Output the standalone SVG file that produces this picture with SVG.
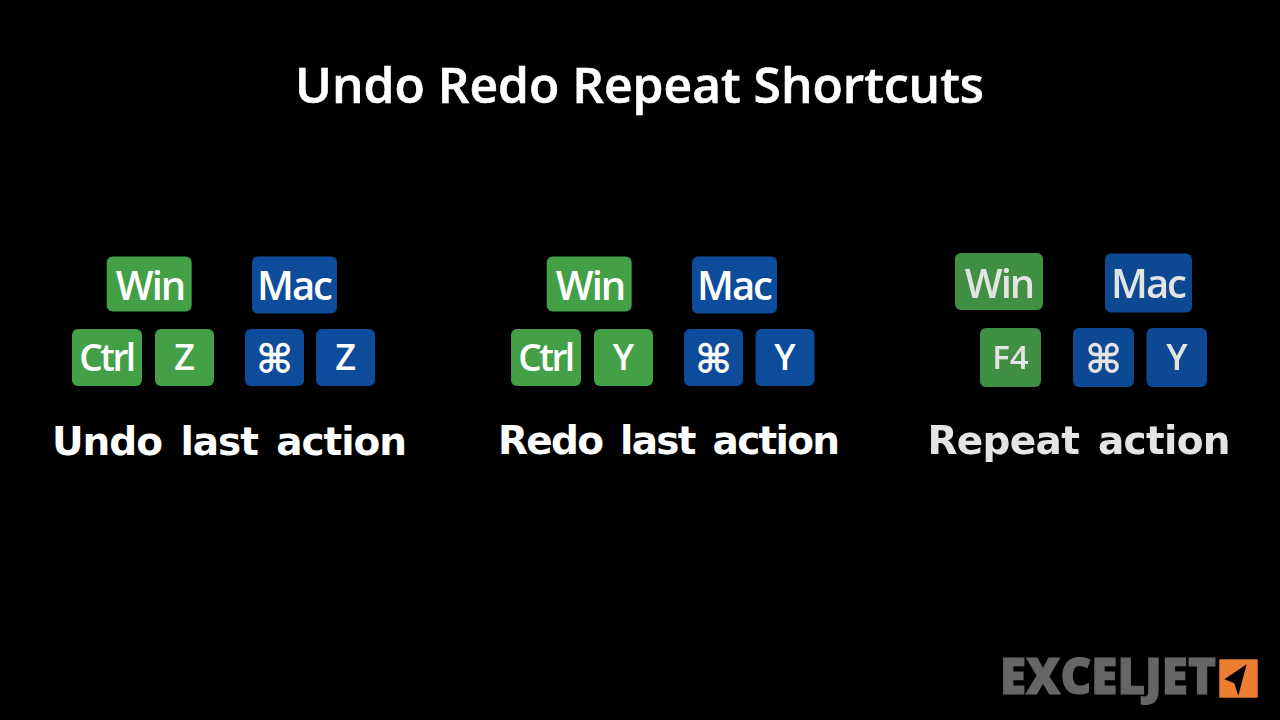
<svg xmlns="http://www.w3.org/2000/svg" width="1280" height="720" viewBox="0 0 1280 720">
<style>
.g{fill:#43a047}.b{fill:#0d4c9b}.g2{fill:#3f8f42}.b2{fill:#0f4a92}
text{font-family:"Open Sans","Noto Sans","DejaVu Sans",sans-serif;fill:#fff;text-anchor:middle}
.k{font-size:40px;font-weight:600;letter-spacing:-2px}
.s{font-size:36px;font-weight:600}
.t{font-size:37px;font-weight:600;letter-spacing:-2.5px}
.c{font-family:"DejaVu Sans",sans-serif;font-size:40px;font-weight:700}
.l{font-family:"DejaVu Sans",sans-serif;font-size:39px;font-weight:700;word-spacing:6px}
.f{fill:#e4e4e4}
</style>
<defs><filter id="soft" x="-5%" y="-5%" width="110%" height="110%"><feGaussianBlur stdDeviation="0.7"/></filter><filter id="soft2" x="-5%" y="-10%" width="110%" height="120%"><feGaussianBlur stdDeviation="0.5"/></filter></defs>
<rect width="1280" height="720" fill="#000"/>
<text id="title" x="639.500" y="102.500" font-size="48" font-weight="600" style="stroke:#fff;stroke-width:0.6" textLength="689" lengthAdjust="spacingAndGlyphs">Undo Redo Repeat Shortcuts</text>
<g id="undo">
<g id="undo-win"><rect class="g" x="106.700" y="256.500" width="85" height="55" rx="6"/><text class="k" x="150" y="300">Win</text></g>
<g id="undo-mac"><rect class="b" x="252" y="256.500" width="85" height="57" rx="6"/><text class="k" x="294" y="300">Mac</text></g>
<g id="undo-ctrl"><rect class="g" x="72" y="329" width="70" height="57" rx="6"/><text class="t" x="106.500" y="371">Ctrl</text></g>
<g id="undo-z"><rect class="g" x="155" y="329" width="59" height="57" rx="6"/><text class="s" x="184.500" y="370">Z</text></g>
<g id="undo-cmd"><rect class="b" x="245" y="329" width="59" height="57" rx="6"/><text class="c" x="274.500" y="373">⌘</text></g>
<g id="undo-z2"><rect class="b" x="316" y="329" width="59" height="57" rx="6"/><text class="s" x="345.500" y="370">Z</text></g>
<text id="undo-label" class="l" x="229.500" y="455" textLength="355" lengthAdjust="spacing">Undo last action</text>
</g>
<g id="redo">
<g id="redo-win"><rect class="g" x="546.700" y="256.500" width="85" height="55" rx="6"/><text class="k" x="590" y="300">Win</text></g>
<g id="redo-mac"><rect class="b" x="692" y="256.500" width="85" height="57" rx="6"/><text class="k" x="734" y="300">Mac</text></g>
<g id="redo-ctrl"><rect class="g" x="511" y="329" width="70" height="57" rx="6"/><text class="t" x="545.500" y="371">Ctrl</text></g>
<g id="redo-y"><rect class="g" x="594" y="329" width="59" height="57" rx="6"/><text class="s" x="623.500" y="370">Y</text></g>
<g id="redo-cmd"><rect class="b" x="684" y="329" width="59" height="57" rx="6"/><text class="c" x="713.500" y="373">⌘</text></g>
<g id="redo-y2"><rect class="b" x="755.500" y="329" width="59" height="57" rx="6"/><text class="s" x="785" y="370">Y</text></g>
<text id="redo-label" class="l" x="669" y="454" textLength="342" lengthAdjust="spacing">Redo last action</text>
</g>
<g id="repeat" filter="url(#soft)">
<g id="repeat-win"><rect class="g2" x="955" y="253" width="88" height="57" rx="6"/><text class="k f" x="999" y="298">Win</text></g>
<g id="repeat-mac"><rect class="b2" x="1105" y="253.500" width="87" height="59" rx="6"/><text class="k f" x="1148" y="298">Mac</text></g>
<g id="repeat-f4"><rect class="g2" x="980" y="328" width="61" height="59" rx="6"/><text class="f" x="1010.500" y="369" font-size="33" font-weight="600">F4</text></g>
<g id="repeat-cmd"><rect class="b2" x="1073" y="328" width="61" height="59" rx="6"/><text class="c f" x="1103.500" y="373">⌘</text></g>
<g id="repeat-y"><rect class="b2" x="1146.500" y="328" width="60.500" height="59" rx="6"/><text class="s f" x="1177" y="370">Y</text></g>
<text id="repeat-label" class="l f" x="1079" y="454" textLength="303" lengthAdjust="spacing">Repeat action</text>
</g>
<g id="logo">
<text filter="url(#soft2)" x="1108" y="694" font-size="49" font-weight="800" style="fill:#666;stroke:#666;stroke-width:1.2" textLength="216" lengthAdjust="spacingAndGlyphs">EXCELJET</text>
<rect x="1219.300" y="659.300" width="38.400" height="38.400" fill="#ed7d31"/>
<polygon points="1246.700,664.300 1224.300,679.300 1234.300,683.300 1238.300,695.700" fill="#000"/>
</g>
</svg>
